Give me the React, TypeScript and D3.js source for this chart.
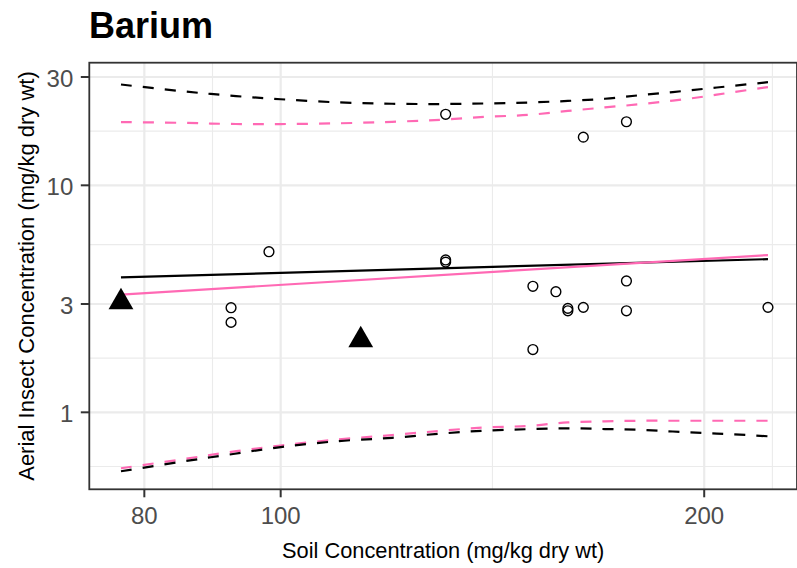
import React from 'react';
import * as d3 from 'd3';

// ---- Data ----
const soilObs = [92.2, 92.2, 98.1, 131.0, 131.0, 131.0, 151.1, 151.1, 156.9, 160.0, 160.0, 164.1, 164.1, 176.1, 176.1, 176.1, 222.0];
const insectObs = [2.89, 2.49, 5.10, 20.55, 4.69, 4.59, 3.59, 1.89, 3.40, 2.87, 2.80, 16.3, 2.90, 19.06, 3.79, 2.80, 2.90];

const siteSoil = [77.0, 114.0];
const siteInsect = [3.06, 2.08];

const fitSoil = [77, 222];
const fitBlack = [3.93, 4.73];
const fitPink = [3.30, 4.93];

const bandSoil = [77, 85, 92, 100, 110, 120, 130, 140, 150, 160, 170, 180, 190, 200, 210, 222];
const upperBlack = [27.8, 26.0, 24.85, 23.95, 23.19, 22.88, 22.81, 22.95, 23.16, 23.54, 24.07, 24.94, 25.76, 26.61, 27.47, 28.46];
const upperPink = [19.0, 18.85, 18.64, 18.62, 18.76, 19.05, 19.45, 20.04, 20.43, 21.27, 22.04, 22.77, 23.61, 24.61, 25.76, 27.1];
const lowerBlack = [0.550, 0.606, 0.652, 0.703, 0.747, 0.772, 0.806, 0.831, 0.843, 0.850, 0.844, 0.837, 0.823, 0.810, 0.800, 0.784];
const lowerPink = [0.567, 0.620, 0.668, 0.714, 0.760, 0.794, 0.829, 0.858, 0.871, 0.903, 0.913, 0.918, 0.918, 0.918, 0.918, 0.918];

const xTicks = [80, 100, 200];
const yTicks = [1, 3, 10, 30];

const titleText = 'Barium';
const xTitle = 'Soil Concentration (mg/kg dry wt)';
const yTitle = 'Aerial Insect Concentration (mg/kg dry wt)';

// ---- Layout ----
const W = 797;
const H = 568;
const PL = 89.3;
const PR = 797;
const PT = 62.7;
const PB = 489.3;

const FONT = "'Liberation Sans', Arial, Helvetica, sans-serif";
const PINK = '#FF69B4';

const x = d3.scaleLog().domain([73.11, 232.8]).range([PL, PR]);
const y = d3.scaleLog().domain([0.458, 34.69]).range([PB, PT]);

function minorBreaks(major: number[], domain: number[]): number[] {
  let b = major.map(Math.log10);
  const bd = b[1] - b[0];
  const lim = domain.map(Math.log10);
  if (lim[0] < b[0]) b = [b[0] - bd, ...b];
  if (lim[1] > b[b.length - 1]) b = [...b, b[b.length - 1] + bd];
  const out: number[] = [];
  for (let i = 0; i < b.length - 1; i++) out.push((b[i] + b[i + 1]) / 2);
  return out.map((v) => Math.pow(10, v)).filter((v) => v > domain[0] && v < domain[1]);
}

const xMinor = minorBreaks(xTicks, x.domain());
const yMinor = minorBreaks(yTicks, y.domain());

const curveLine = d3
  .line<[number, number]>()
  .x((d) => x(d[0]))
  .y((d) => y(d[1]))
  .curve(d3.curveCatmullRom);

const straight = d3
  .line<[number, number]>()
  .x((d) => x(d[0]))
  .y((d) => y(d[1]));

const zip = (a: number[], b: number[]) => a.map((v, i) => [v, b[i]] as [number, number]);

export default function App() {
  const tri = (cx: number, cy: number) =>
    `M${cx},${cy - 14.3}L${cx + 12.4},${cy + 7.2}L${cx - 12.4},${cy + 7.2}Z`;
  const LW = 2.2;
  return (
    <svg
      width={W}
      height={H}
      style={{ position: 'fixed', left: 0, top: 0, background: '#fff' }}
      fontFamily={FONT}
    >
      <rect x={0} y={0} width={W} height={H} fill="#fff" />
      {/* grid */}
      <g>
        {xMinor.map((v) => (
          <line key={'xm' + v} x1={x(v)} x2={x(v)} y1={PT} y2={PB} stroke="#EBEBEB" strokeWidth={1.1} />
        ))}
        {yMinor.map((v) => (
          <line key={'ym' + v} x1={PL} x2={PR} y1={y(v)} y2={y(v)} stroke="#EBEBEB" strokeWidth={1.1} />
        ))}
        {xTicks.map((v) => (
          <line key={'xg' + v} x1={x(v)} x2={x(v)} y1={PT} y2={PB} stroke="#EBEBEB" strokeWidth={2.2} />
        ))}
        {yTicks.map((v) => (
          <line key={'yg' + v} x1={PL} x2={PR} y1={y(v)} y2={y(v)} stroke="#EBEBEB" strokeWidth={2.2} />
        ))}
      </g>
      {/* prediction bands */}
      <path d={curveLine(zip(bandSoil, upperPink)) || ''} fill="none" stroke={PINK} strokeWidth={LW} strokeDasharray="11,11" />
      <path d={curveLine(zip(bandSoil, lowerPink)) || ''} fill="none" stroke={PINK} strokeWidth={LW} strokeDasharray="11,11" />
      <path d={curveLine(zip(bandSoil, upperBlack)) || ''} fill="none" stroke="#000" strokeWidth={LW} strokeDasharray="11,11" />
      <path d={curveLine(zip(bandSoil, lowerBlack)) || ''} fill="none" stroke="#000" strokeWidth={LW} strokeDasharray="11,11" />
      {/* fits */}
      <path d={straight(zip(fitSoil, fitBlack)) || ''} fill="none" stroke="#000" strokeWidth={LW} />
      <path d={straight(zip(fitSoil, fitPink)) || ''} fill="none" stroke={PINK} strokeWidth={LW} />
      {/* observations */}
      {soilObs.map((v, i) => (
        <circle key={'p' + i} cx={x(v)} cy={y(insectObs[i])} r={4.9} fill="none" stroke="#000" strokeWidth={1.4} />
      ))}
      {siteSoil.map((v, i) => (
        <path key={'t' + i} d={tri(x(v), y(siteInsect[i]))} fill="#000" />
      ))}
      {/* border */}
      <rect x={PL} y={PT} width={PR - PL} height={PB - PT} fill="none" stroke="#333333" strokeWidth={1.8} />
      {/* axes ticks */}
      {xTicks.map((v) => (
        <g key={'xt' + v}>
          <line x1={x(v)} x2={x(v)} y1={PB} y2={PB + 8} stroke="#333333" strokeWidth={2} />
          <text x={x(v)} y={524.3} textAnchor="middle" fontSize={24} fill="#4D4D4D">
            {v}
          </text>
        </g>
      ))}
      {yTicks.map((v) => (
        <g key={'yt' + v}>
          <line x1={PL - 8.5} x2={PL} y1={y(v)} y2={y(v)} stroke="#333333" strokeWidth={2} />
          <text x={73.3} y={y(v) + 10} textAnchor="end" fontSize={24} fill="#4D4D4D">
            {v}
          </text>
        </g>
      ))}
      {/* titles */}
      <text x={89} y={38.3} fontSize={36} fontWeight="bold" fill="#000">
        {titleText}
      </text>
      <text x={(PL + PR) / 2} y={558.3} textAnchor="middle" fontSize={21.8} fill="#000">
        {xTitle}
      </text>
      <text
        transform={`translate(34.3, ${(PT + PB) / 2}) rotate(-90)`}
        textAnchor="middle"
        fontSize={22}
        fill="#000"
      >
        {yTitle}
      </text>
    </svg>
  );
}
